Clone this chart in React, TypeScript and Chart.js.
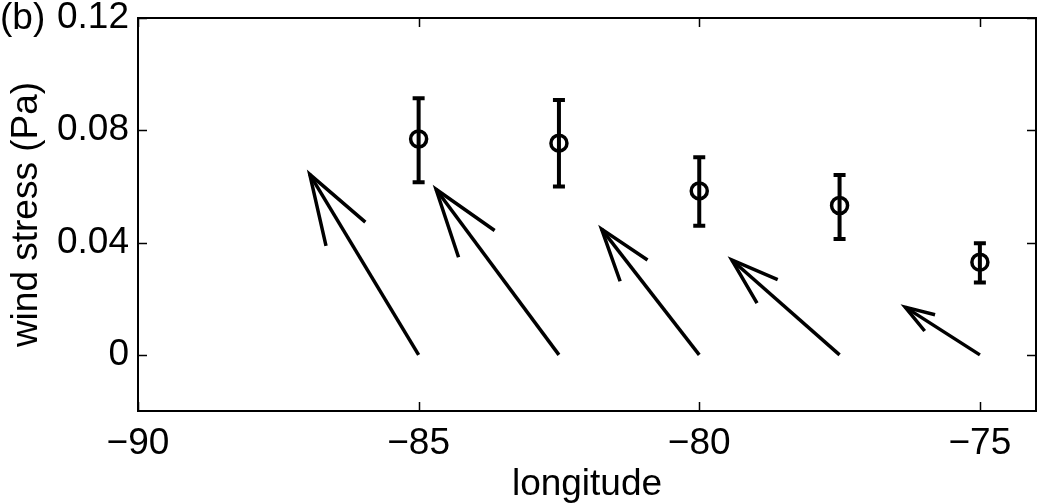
import React, { useEffect, useRef } from "react";
import { Chart, registerables } from "chart.js";

Chart.register(...registerables);

// Data
const longitudes = [-85, -82.5, -80, -77.5, -75];
const stressMean = [0.0769, 0.0754, 0.0584, 0.0532, 0.033];
const stressUpper = [0.0914, 0.0908, 0.0704, 0.0641, 0.0398];
const stressLower = [0.0615, 0.06, 0.046, 0.0413, 0.0258];

const arrowBaseY = [0, 0, 0, 0, 0];
const arrowTipLon = [-86.94, -84.69, -81.74, -79.42, -76.33];
const arrowTipY = [0.0643, 0.059, 0.0448, 0.0338, 0.017];

const xTicks = [-90, -85, -80, -75];
const yTicks = [0, 0.04, 0.08, 0.12];
const yTickLabels = ["0", "0.04", "0.08", "0.12"];

const FONT = "Liberation Sans, Arial, Helvetica, sans-serif";
const FS = 37;

const fmtMinus = (v: number) => (v < 0 ? "\u2212" + Math.abs(v) : String(v));

const decorPlugin = {
  id: "decor",
  afterDatasetsDraw(chart: any) {
    const { ctx, chartArea, scales } = chart;
    const xs = scales.x;
    const ys = scales.y;
    const { left, right, top, bottom } = chartArea;
    ctx.save();
    ctx.strokeStyle = "#000";
    ctx.lineCap = "butt";

    // arrows (MATLAB quiver style heads)
    ctx.lineWidth = 3.5;
    const alpha = 0.33;
    const beta = 0.33;
    for (let i = 0; i < longitudes.length; i++) {
      const x0 = xs.getPixelForValue(longitudes[i]);
      const y0 = ys.getPixelForValue(arrowBaseY[i]);
      const x1 = xs.getPixelForValue(arrowTipLon[i]);
      const y1 = ys.getPixelForValue(arrowTipY[i]);
      const dx = x1 - x0;
      const dy = y1 - y0;
      const b1x = x1 - alpha * (dx + beta * dy);
      const b1y = y1 - alpha * (dy - beta * dx);
      const b2x = x1 - alpha * (dx - beta * dy);
      const b2y = y1 - alpha * (dy + beta * dx);
      ctx.beginPath();
      ctx.moveTo(x0, y0);
      ctx.lineTo(x1, y1);
      ctx.stroke();
      ctx.beginPath();
      ctx.moveTo(b1x, b1y);
      ctx.lineTo(x1, y1);
      ctx.lineTo(b2x, b2y);
      ctx.stroke();
    }

    // error bars
    ctx.lineWidth = 4;
    for (let i = 0; i < longitudes.length; i++) {
      const x = xs.getPixelForValue(longitudes[i]);
      const yu = ys.getPixelForValue(stressUpper[i]);
      const yl = ys.getPixelForValue(stressLower[i]);
      ctx.beginPath();
      ctx.moveTo(x, yu);
      ctx.lineTo(x, yl);
      ctx.moveTo(x - 6, yu);
      ctx.lineTo(x + 6, yu);
      ctx.moveTo(x - 6, yl);
      ctx.lineTo(x + 6, yl);
      ctx.stroke();
    }

    // box
    ctx.lineWidth = 2;
    ctx.strokeRect(left, top, right - left, bottom - top);

    // inward ticks
    ctx.lineWidth = 1.5;
    const tl = 9;
    ctx.beginPath();
    for (const v of xTicks) {
      const x = Math.round(xs.getPixelForValue(v)) + 0.5;
      ctx.moveTo(x, bottom);
      ctx.lineTo(x, bottom - tl);
      ctx.moveTo(x, top);
      ctx.lineTo(x, top + tl);
    }
    for (const v of yTicks) {
      const y = Math.round(ys.getPixelForValue(v)) + 0.5;
      ctx.moveTo(left, y);
      ctx.lineTo(left + tl, y);
      ctx.moveTo(right, y);
      ctx.lineTo(right - tl, y);
    }
    ctx.stroke();

    // panel label
    ctx.fillStyle = "#000";
    ctx.font = `${FS}px ${FONT}`;
    ctx.textAlign = "left";
    ctx.textBaseline = "middle";
    ctx.fillText("(b)", 0, ys.getPixelForValue(0.12) + 1);
    ctx.restore();
  },
};

export default function App() {
  const ref = useRef<HTMLCanvasElement | null>(null);

  useEffect(() => {
    const prevMargin = document.body.style.margin;
    document.body.style.margin = "0";
    if (!ref.current) return;
    const chart = new Chart(ref.current, {
      type: "scatter",
      data: {
        datasets: [
          {
            label: "wind stress",
            data: longitudes.map((x, i) => ({ x, y: stressMean[i] })),
            pointStyle: "circle",
            pointRadius: 8,
            pointBorderWidth: 3.5,
            pointBackgroundColor: "rgba(0,0,0,0)",
            pointBorderColor: "#000",
            showLine: false,
          },
        ],
      },
      options: {
        animation: false,
        responsive: false,
        maintainAspectRatio: false,
        devicePixelRatio: 1,
        layout: { autoPadding: false, padding: { top: 18, right: 1, left: 0, bottom: 0 } },
        plugins: {
          legend: { display: false },
          tooltip: { enabled: false },
          title: { display: false },
        },
        scales: {
          x: {
            type: "linear",
            min: -90,
            max: -74,
            grid: { display: false, drawTicks: false, tickLength: 0 },
            border: { display: false },
            afterBuildTicks: (s: any) => {
              s.ticks = xTicks.map((v) => ({ value: v }));
            },
            afterFit: (s: any) => {
              s.height = 92;
              s.paddingLeft = 0;
              s.paddingRight = 0;
            },
            ticks: {
              color: "#000",
              font: { size: FS, family: FONT },
              padding: 11,
              maxRotation: 0,
              autoSkip: false,
              callback: (v: any) => fmtMinus(Number(v)),
            },
            title: {
              display: true,
              text: "longitude",
              color: "#000",
              font: { size: FS, family: FONT, lineHeight: 1 },
              padding: { top: 0, bottom: 0 },
            },
          },
          y: {
            type: "linear",
            min: -0.02,
            max: 0.12,
            grid: { display: false, drawTicks: false, tickLength: 0 },
            border: { display: false },
            afterBuildTicks: (s: any) => {
              s.ticks = yTicks.map((v) => ({ value: v }));
            },
            afterFit: (s: any) => {
              s.width = 138;
              s.paddingTop = 0;
              s.paddingBottom = 0;
            },
            ticks: {
              color: "#000",
              font: { size: FS, family: FONT },
              padding: 9,
              autoSkip: false,
              callback: (v: any) => {
                const idx = yTicks.findIndex((t) => Math.abs(t - Number(v)) < 1e-9);
                return idx >= 0 ? yTickLabels[idx] : "";
              },
            },
            title: {
              display: true,
              text: "wind stress (Pa)",
              color: "#000",
              font: { size: FS, family: FONT, lineHeight: 1 },
              padding: { top: 8, bottom: 0 },
            },
          },
        },
      },
      plugins: [decorPlugin],
    });
    return () => {
      chart.destroy();
      document.body.style.margin = prevMargin;
    };
  }, []);

  return (
    <div style={{ position: "fixed", left: 0, top: 0, width: 1037, height: 503, background: "#fff" }}>
      <canvas ref={ref} width={1037} height={503} style={{ display: "block", width: 1037, height: 503 }} />
    </div>
  );
}
